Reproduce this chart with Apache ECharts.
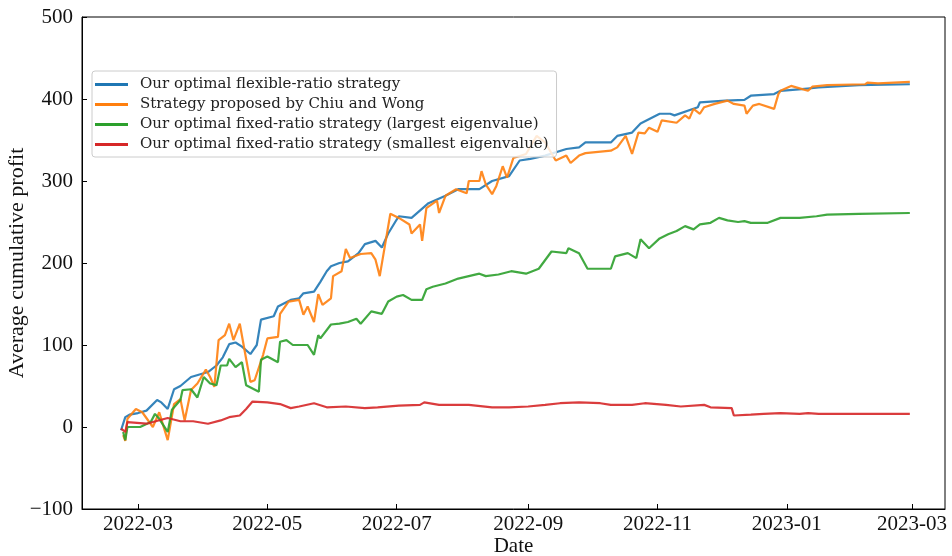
<!DOCTYPE html>
<html>
<head>
<meta charset="utf-8">
<script src="https://cdn.jsdelivr.net/npm/echarts@6/dist/echarts.min.js"></script>
<style>
  html, body { margin: 0; padding: 0; background: #fff; }
  #chart { width: 952px; height: 556px; }
</style>
</head>
<body>
<div id="chart"></div>
<script>
// Average cumulative profit of four pair-trading strategies, Feb 2022 – Feb 2023
const seriesNames = [
  'Our optimal flexible-ratio strategy',
  'Strategy proposed by Chiu and Wong',
  'Our optimal fixed-ratio strategy (largest eigenvalue)',
  'Our optimal fixed-ratio strategy (smallest eigenvalue)'
];

const flexDates = ['2022-02-21','2022-02-23','2022-02-25','2022-03-01','2022-03-05','2022-03-10','2022-03-12','2022-03-15','2022-03-18','2022-03-21','2022-03-26','2022-03-30','2022-04-03','2022-04-07','2022-04-10','2022-04-13','2022-04-16','2022-04-19','2022-04-23','2022-04-26','2022-04-28','2022-05-04','2022-05-06','2022-05-12','2022-05-16','2022-05-18','2022-05-23','2022-05-26','2022-05-29','2022-05-31','2022-06-04','2022-06-08','2022-06-13','2022-06-16','2022-06-21','2022-06-24','2022-06-27','2022-07-01','2022-07-02','2022-07-08','2022-07-16','2022-07-24','2022-07-30','2022-08-09','2022-08-15','2022-08-23','2022-08-28','2022-09-02','2022-09-09','2022-09-19','2022-09-25','2022-09-28','2022-10-10','2022-10-13','2022-10-20','2022-10-24','2022-11-02','2022-11-07','2022-11-09','2022-11-20','2022-11-21','2022-12-03','2022-12-12','2022-12-15','2022-12-26','2022-12-29','2023-01-08','2023-01-16','2023-02-04','2023-02-28'];
const flexValues = [-4,12,15,17,20,33,30,22,46,50,61,64,67,75,85,101,103,98,89,100,131,135,147,155,157,163,165,177,190,196,200,202,212,223,227,219,236,253,257,255,273,282,290,290,300,306,325,327,331,339,341,347,347,355,359,370,382,382,380,390,396,398,399,404,406,410,412,414,417,418];

const chiuDates = ['2022-02-22','2022-02-23','2022-02-24','2022-02-28','2022-03-03','2022-03-08','2022-03-11','2022-03-15','2022-03-18','2022-03-21','2022-03-23','2022-03-26','2022-03-29','2022-04-02','2022-04-04','2022-04-06','2022-04-08','2022-04-11','2022-04-13','2022-04-15','2022-04-18','2022-04-21','2022-04-23','2022-04-25','2022-04-29','2022-05-01','2022-05-06','2022-05-07','2022-05-11','2022-05-16','2022-05-18','2022-05-20','2022-05-23','2022-05-25','2022-05-27','2022-05-31','2022-06-01','2022-06-05','2022-06-07','2022-06-09','2022-06-14','2022-06-19','2022-06-21','2022-06-23','2022-06-28','2022-07-02','2022-07-07','2022-07-08','2022-07-12','2022-07-13','2022-07-15','2022-07-20','2022-07-21','2022-07-24','2022-07-29','2022-08-03','2022-08-04','2022-08-09','2022-08-10','2022-08-12','2022-08-15','2022-08-17','2022-08-20','2022-08-22','2022-08-25','2022-08-31','2022-09-05','2022-09-09','2022-09-14','2022-09-19','2022-09-21','2022-09-25','2022-09-28','2022-10-10','2022-10-13','2022-10-17','2022-10-20','2022-10-23','2022-10-26','2022-10-28','2022-11-01','2022-11-03','2022-11-10','2022-11-14','2022-11-16','2022-11-18','2022-11-21','2022-11-23','2022-11-28','2022-12-04','2022-12-07','2022-12-12','2022-12-13','2022-12-16','2022-12-19','2022-12-26','2022-12-28','2022-12-29','2023-01-03','2023-01-07','2023-01-11','2023-01-13','2023-01-20','2023-02-07','2023-02-08','2023-02-13','2023-02-28'];
const chiuValues = [-10,-17,10,22,18,0,18,-16,28,34,8,45,53,70,61,49,106,112,126,106,126,83,55,57,88,108,110,138,153,155,137,147,128,162,149,157,184,190,217,206,211,212,204,184,260,255,247,236,247,227,267,276,261,282,290,285,300,300,312,296,284,294,318,304,328,333,355,347,325,331,322,331,334,337,341,355,333,359,358,365,360,374,371,380,376,388,382,390,394,398,394,392,382,392,394,388,406,410,416,413,410,415,417,418,420,419,421];

const largestDates = ['2022-02-22','2022-02-23','2022-02-24','2022-03-02','2022-03-07','2022-03-09','2022-03-11','2022-03-15','2022-03-17','2022-03-21','2022-03-22','2022-03-26','2022-03-29','2022-04-01','2022-04-04','2022-04-07','2022-04-09','2022-04-12','2022-04-13','2022-04-16','2022-04-19','2022-04-21','2022-04-27','2022-04-28','2022-05-01','2022-05-06','2022-05-07','2022-05-10','2022-05-13','2022-05-20','2022-05-23','2022-05-25','2022-05-26','2022-05-31','2022-06-04','2022-06-08','2022-06-12','2022-06-14','2022-06-19','2022-06-24','2022-06-27','2022-07-01','2022-07-04','2022-07-08','2022-07-13','2022-07-15','2022-07-18','2022-07-24','2022-07-30','2022-08-09','2022-08-12','2022-08-18','2022-08-24','2022-08-31','2022-09-06','2022-09-12','2022-09-19','2022-09-20','2022-09-25','2022-09-29','2022-10-10','2022-10-12','2022-10-18','2022-10-22','2022-10-24','2022-10-28','2022-11-02','2022-11-06','2022-11-10','2022-11-14','2022-11-18','2022-11-21','2022-11-26','2022-11-30','2022-12-04','2022-12-09','2022-12-12','2022-12-15','2022-12-23','2022-12-29','2023-01-07','2023-01-15','2023-01-20','2023-02-04','2023-02-28'];
const largestValues = [-6,-16,0,0,6,16,10,-6,21,33,45,46,36,61,53,51,75,75,83,73,79,51,43,82,86,79,104,106,100,100,88,112,108,125,126,128,132,126,141,138,153,159,161,155,155,168,171,175,181,187,184,186,190,187,193,214,212,218,212,193,193,208,212,206,229,218,230,235,239,245,241,247,249,255,252,250,251,249,249,255,255,257,259,260,261];

const smallestDates = ['2022-02-21','2022-02-23','2022-02-24','2022-03-05','2022-03-15','2022-03-21','2022-03-27','2022-04-03','2022-04-09','2022-04-13','2022-04-18','2022-04-21','2022-04-24','2022-05-01','2022-05-07','2022-05-12','2022-05-16','2022-05-23','2022-05-29','2022-06-07','2022-06-16','2022-06-22','2022-07-02','2022-07-12','2022-07-14','2022-07-21','2022-08-04','2022-08-15','2022-08-23','2022-09-01','2022-09-09','2022-09-16','2022-09-25','2022-10-05','2022-10-10','2022-10-20','2022-10-26','2022-11-05','2022-11-12','2022-11-23','2022-11-26','2022-12-06','2022-12-07','2022-12-15','2022-12-21','2022-12-29','2023-01-07','2023-01-11','2023-01-16','2023-02-28'];
const smallestValues = [-2,-6,6,4,11,7,7,4,8,12,14,22,31,30,28,23,25,29,24,25,23,24,26,27,30,27,27,24,24,25,27,29,30,29,27,27,29,27,25,27,24,23,14,15,16,17,16,17,16,16];

const yTicks = { min: -100, max: 500, step: 100 };
const colors = ['#1f77b4', '#ff7f0e', '#2ca02c', '#d62728'];

function pairs(dates, values) {
  return dates.map((d, i) => [d, values[i]]);
}

const serif = '"Liberation Serif", "DejaVu Serif", serif';

const chart = echarts.init(document.getElementById('chart'), null, { renderer: 'canvas' });

const seriesData = [
  pairs(flexDates, flexValues),
  pairs(chiuDates, chiuValues),
  pairs(largestDates, largestValues),
  pairs(smallestDates, smallestValues)
];

chart.setOption({
  animation: false,
  backgroundColor: '#ffffff',
  color: colors,
  grid: {
    left: 82, right: 7, top: 17, bottom: 47,
    containLabel: false,
    outerBoundsMode: 'none',
    show: true, borderColor: '#000', borderWidth: 1, backgroundColor: 'transparent'
  },
  legend: {
    orient: 'vertical',
    left: 92, top: 71,
    padding: [6, 8, 5, 3],
    itemGap: 5,
    itemWidth: 33,
    itemHeight: 3,
    icon: 'rect',
    backgroundColor: 'rgba(255,255,255,0.82)',
    borderColor: '#cccccc',
    borderWidth: 1,
    borderRadius: 3,
    textStyle: {
      fontFamily: '"DejaVu Serif", serif',
      fontSize: 15,
      lineHeight: 15,
      color: '#222',
      padding: [0, 0, 0, 7]
    },
    data: seriesNames
  },
  xAxis: {
    type: 'time',
    min: +new Date(2022, 1, 2, 14),
    max: +new Date(2023, 2, 16, 14),
    minInterval: 55 * 86400000,
    maxInterval: 65 * 86400000,
    name: 'Date',
    nameLocation: 'middle',
    nameGap: 27,
    nameMoveOverlap: false,
    nameTextStyle: { fontFamily: serif, fontSize: 21, color: '#111' },
    axisLine: { show: true, onZero: false, lineStyle: { color: '#000', width: 1 } },
    axisTick: { show: true, inside: true, length: 5, lineStyle: { color: '#000' } },
    splitLine: { show: false },
    axisLabel: {
      fontFamily: serif, fontSize: 21, color: '#111', margin: 5,
      formatter: '{yyyy}-{MM}',
      showMinLabel: false, showMaxLabel: false
    }
  },
  yAxis: {
    type: 'value',
    min: yTicks.min, max: yTicks.max, interval: yTicks.step,
    name: 'Average cumulative profit',
    nameLocation: 'middle',
    nameGap: 54,
    nameMoveOverlap: false,
    nameTextStyle: { fontFamily: serif, fontSize: 22, color: '#111' },
    axisLine: { show: true, lineStyle: { color: '#000', width: 1 } },
    axisTick: { show: true, inside: true, length: 5, lineStyle: { color: '#000' } },
    splitLine: { show: false },
    axisLabel: {
      fontFamily: serif, fontSize: 21, color: '#111', margin: 9,
      formatter: v => String(v).replace('-', '\u2212')
    }
  },
  series: seriesNames.map((name, i) => ({
    name: name,
    type: 'line',
    data: seriesData[i],
    showSymbol: false,
    symbol: 'none',
    lineStyle: { width: 2.2, color: colors[i], opacity: 0.9 },
    itemStyle: { color: colors[i] },
    z: 2 + i
  }))
});
</script>
</body>
</html>
